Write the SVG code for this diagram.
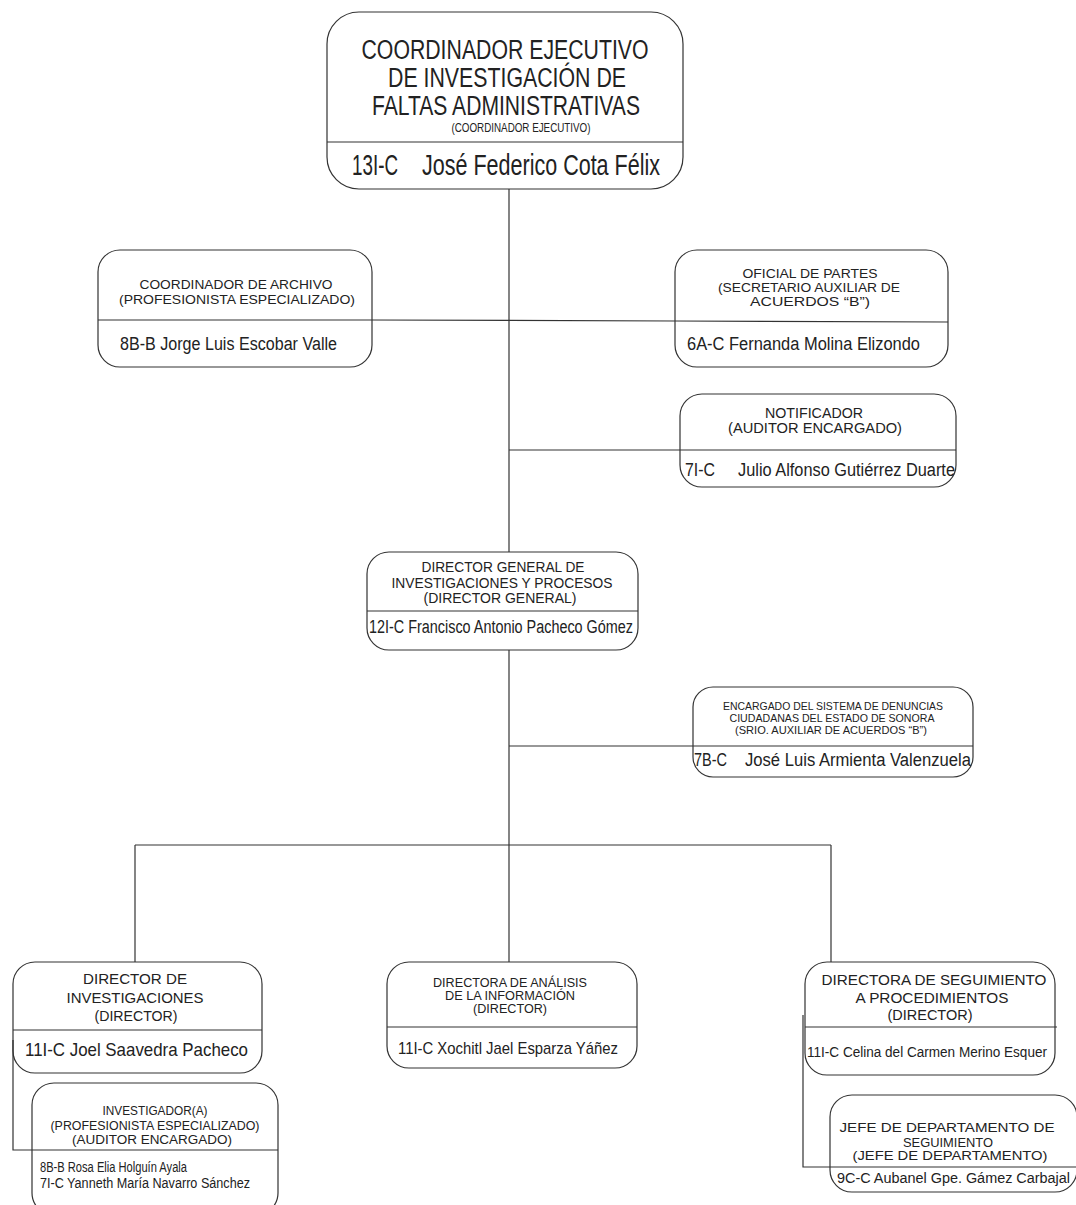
<svg xmlns="http://www.w3.org/2000/svg" width="1076" height="1205" viewBox="0 0 1076 1205">
<style>
.box{fill:#fff;stroke:#333;stroke-width:1.2}
.ln{stroke:#333;stroke-width:1.2;fill:none}
text{font-family:"Liberation Sans",Arial,sans-serif;fill:#222}
.c{text-anchor:middle}
</style>
<rect width="1076" height="1205" fill="#fff"/>
<g id="connectors">
<line class="ln" x1="509" y1="189" x2="509" y2="552"/>
<line class="ln" x1="509" y1="650" x2="509" y2="962"/>
<line class="ln" x1="372" y1="320" x2="675" y2="321"/>
<line class="ln" x1="509" y1="450" x2="680" y2="450"/>
<line class="ln" x1="509" y1="746" x2="693" y2="746"/>
<line class="ln" x1="135" y1="845" x2="831" y2="845"/>
<line class="ln" x1="135" y1="845" x2="135" y2="962"/>
<line class="ln" x1="831" y1="845" x2="831" y2="962"/>
</g>
<g id="n-coordinador">
<rect class="box" x="327" y="12" width="356" height="177" rx="32"/>
<line class="ln" x1="327" y1="142" x2="683" y2="142"/>
<text class="c" x="505" y="59" font-size="27" textLength="287" lengthAdjust="spacingAndGlyphs">COORDINADOR EJECUTIVO</text>
<text class="c" x="507" y="87" font-size="27" textLength="238" lengthAdjust="spacingAndGlyphs">DE INVESTIGACIÓN DE</text>
<text class="c" x="506" y="115" font-size="27" textLength="268" lengthAdjust="spacingAndGlyphs">FALTAS ADMINISTRATIVAS</text>
<text class="c" x="521" y="132" font-size="13" textLength="139" lengthAdjust="spacingAndGlyphs">(COORDINADOR EJECUTIVO)</text>
<text x="352" y="175" font-size="29" textLength="46" lengthAdjust="spacingAndGlyphs">13I-C</text>
<text x="422" y="175" font-size="29" textLength="238" lengthAdjust="spacingAndGlyphs">José Federico Cota Félix</text>
</g>
<g id="n-archivo">
<rect class="box" x="98" y="250" width="274" height="117" rx="22"/>
<line class="ln" x1="98" y1="320" x2="372" y2="320"/>
<text class="c" x="236" y="289" font-size="13" textLength="193" lengthAdjust="spacingAndGlyphs">COORDINADOR DE ARCHIVO</text>
<text class="c" x="237" y="304" font-size="13" textLength="236" lengthAdjust="spacingAndGlyphs">(PROFESIONISTA ESPECIALIZADO)</text>
<text x="120" y="350" font-size="18" textLength="217" lengthAdjust="spacingAndGlyphs">8B-B Jorge Luis Escobar Valle</text>
</g>
<g id="n-oficial">
<rect class="box" x="675" y="250" width="273" height="117" rx="22"/>
<line class="ln" x1="675" y1="321" x2="948" y2="322"/>
<text class="c" x="810" y="278" font-size="13.5" textLength="135" lengthAdjust="spacingAndGlyphs">OFICIAL DE PARTES</text>
<text class="c" x="809" y="292" font-size="13.5" textLength="182" lengthAdjust="spacingAndGlyphs">(SECRETARIO AUXILIAR DE</text>
<text class="c" x="810" y="306" font-size="13.5" textLength="120" lengthAdjust="spacingAndGlyphs">ACUERDOS “B”)</text>
<text x="687" y="350" font-size="18" textLength="233" lengthAdjust="spacingAndGlyphs">6A-C Fernanda Molina Elizondo</text>
</g>
<g id="n-notificador">
<rect class="box" x="680" y="394" width="276" height="93" rx="22"/>
<line class="ln" x1="680" y1="450" x2="956" y2="450"/>
<text class="c" x="814" y="418" font-size="14" textLength="98" lengthAdjust="spacingAndGlyphs">NOTIFICADOR</text>
<text class="c" x="815" y="433" font-size="14" textLength="174" lengthAdjust="spacingAndGlyphs">(AUDITOR ENCARGADO)</text>
<text x="685" y="476" font-size="18" textLength="30" lengthAdjust="spacingAndGlyphs">7I-C</text>
<text x="738" y="476" font-size="18" textLength="217" lengthAdjust="spacingAndGlyphs">Julio Alfonso Gutiérrez Duarte</text>
</g>
<g id="n-director-general">
<rect class="box" x="367" y="552" width="271" height="98" rx="22"/>
<line class="ln" x1="367" y1="611" x2="638" y2="611"/>
<text class="c" x="503" y="572" font-size="14" textLength="163" lengthAdjust="spacingAndGlyphs">DIRECTOR GENERAL DE</text>
<text class="c" x="502" y="588" font-size="14" textLength="221" lengthAdjust="spacingAndGlyphs">INVESTIGACIONES Y PROCESOS</text>
<text class="c" x="500" y="603" font-size="14" textLength="153" lengthAdjust="spacingAndGlyphs">(DIRECTOR GENERAL)</text>
<text x="369" y="633" font-size="18" textLength="264" lengthAdjust="spacingAndGlyphs">12I-C Francisco Antonio Pacheco Gómez</text>
</g>
<g id="n-encargado">
<rect class="box" x="693" y="687" width="280" height="90" rx="20"/>
<line class="ln" x1="693" y1="746" x2="973" y2="746"/>
<text class="c" x="833" y="710" font-size="11.5" textLength="220" lengthAdjust="spacingAndGlyphs">ENCARGADO DEL SISTEMA DE DENUNCIAS</text>
<text class="c" x="832" y="722" font-size="11.5" textLength="205" lengthAdjust="spacingAndGlyphs">CIUDADANAS DEL ESTADO DE SONORA</text>
<text class="c" x="831" y="734" font-size="11.5" textLength="192" lengthAdjust="spacingAndGlyphs">(SRIO. AUXILIAR DE ACUERDOS “B”)</text>
<text x="694" y="766" font-size="18" textLength="33" lengthAdjust="spacingAndGlyphs">7B-C</text>
<text x="745" y="766" font-size="18" textLength="226" lengthAdjust="spacingAndGlyphs">José Luis Armienta Valenzuela</text>
</g>
<g id="n-dir-investigaciones">
<rect class="box" x="13" y="962" width="249" height="111" rx="22"/>
<line class="ln" x1="13" y1="1030" x2="262" y2="1030"/>
<text class="c" x="135" y="984" font-size="15" textLength="104" lengthAdjust="spacingAndGlyphs">DIRECTOR DE</text>
<text class="c" x="135" y="1003" font-size="15" textLength="137" lengthAdjust="spacingAndGlyphs">INVESTIGACIONES</text>
<text class="c" x="136" y="1021" font-size="15" textLength="83" lengthAdjust="spacingAndGlyphs">(DIRECTOR)</text>
<text x="25" y="1056" font-size="19" textLength="223" lengthAdjust="spacingAndGlyphs">11I-C Joel Saavedra Pacheco</text>
</g>
<g id="n-investigador">
<rect class="box" x="32" y="1083" width="246" height="132" rx="22"/>
<text class="c" x="155" y="1115" font-size="12" textLength="105" lengthAdjust="spacingAndGlyphs">INVESTIGADOR(A)</text>
<text class="c" x="155" y="1130" font-size="12" textLength="209" lengthAdjust="spacingAndGlyphs">(PROFESIONISTA ESPECIALIZADO)</text>
<text class="c" x="152" y="1144" font-size="12" textLength="160" lengthAdjust="spacingAndGlyphs">(AUDITOR ENCARGADO)</text>
<text x="40" y="1172" font-size="14" textLength="147" lengthAdjust="spacingAndGlyphs">8B-B Rosa Elia Holguín Ayala</text>
<text x="40" y="1188" font-size="14" textLength="210" lengthAdjust="spacingAndGlyphs">7I-C Yanneth María Navarro Sánchez</text>
</g>
<g id="n-dir-analisis">
<rect class="box" x="387" y="962" width="250" height="106" rx="22"/>
<line class="ln" x1="387" y1="1027" x2="637" y2="1027"/>
<text class="c" x="510" y="987" font-size="12.5" textLength="154" lengthAdjust="spacingAndGlyphs">DIRECTORA DE ANÁLISIS</text>
<text class="c" x="510" y="1000" font-size="12.5" textLength="130" lengthAdjust="spacingAndGlyphs">DE LA INFORMACIÓN</text>
<text class="c" x="510" y="1013" font-size="12.5" textLength="74" lengthAdjust="spacingAndGlyphs">(DIRECTOR)</text>
<text x="398" y="1054" font-size="17" textLength="220" lengthAdjust="spacingAndGlyphs">11I-C Xochitl Jael Esparza Yáñez</text>
</g>
<g id="n-dir-seguimiento">
<rect class="box" x="805" y="962" width="250" height="113" rx="22"/>
<line class="ln" x1="805" y1="1027" x2="1057" y2="1027"/>
<text class="c" x="934" y="985" font-size="15" textLength="225" lengthAdjust="spacingAndGlyphs">DIRECTORA DE SEGUIMIENTO</text>
<text class="c" x="932" y="1003" font-size="15" textLength="153" lengthAdjust="spacingAndGlyphs">A PROCEDIMIENTOS</text>
<text class="c" x="930" y="1020" font-size="15" textLength="85" lengthAdjust="spacingAndGlyphs">(DIRECTOR)</text>
<text x="807" y="1057" font-size="14" textLength="240" lengthAdjust="spacingAndGlyphs">11I-C Celina del Carmen Merino Esquer</text>
</g>
<g id="n-jefe">
<rect class="box" x="830" y="1095" width="247" height="97" rx="22"/>
<text class="c" x="947" y="1132" font-size="13" textLength="215" lengthAdjust="spacingAndGlyphs">JEFE DE DEPARTAMENTO DE</text>
<text class="c" x="948" y="1147" font-size="13" textLength="90" lengthAdjust="spacingAndGlyphs">SEGUIMIENTO</text>
<text class="c" x="950" y="1160" font-size="13" textLength="195" lengthAdjust="spacingAndGlyphs">(JEFE DE DEPARTAMENTO)</text>
<text x="837" y="1183" font-size="14" textLength="233" lengthAdjust="spacingAndGlyphs">9C-C Aubanel Gpe. Gámez Carbajal</text>
</g>
<g id="side-connectors">
<polyline class="ln" points="803,1015 803,1167 1076,1167"/>
<polyline class="ln" points="13,1040 13,1150 278,1150"/>
</g>
</svg>
